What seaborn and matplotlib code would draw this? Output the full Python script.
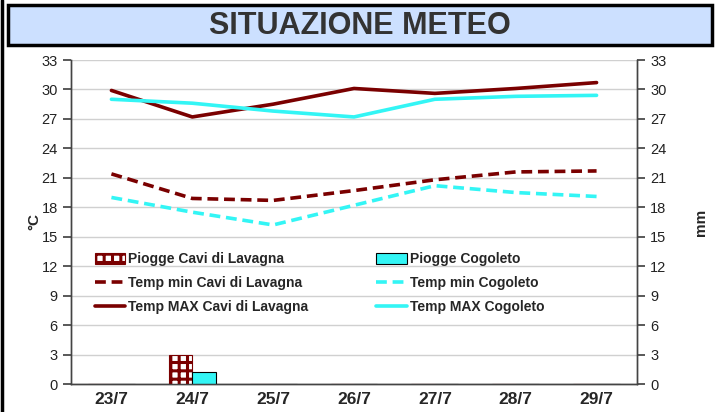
import numpy as np
import pandas as pd
import seaborn as sns
from matplotlib import pyplot as plt
from matplotlib.patches import Rectangle
from matplotlib.lines import Line2D

days = ['23/7', '24/7', '25/7', '26/7', '27/7', '28/7', '29/7']

tmax_cavi = [29.9, 27.2, 28.5, 30.1, 29.6, 30.1, 30.7]
tmax_cogoleto = [29.0, 28.6, 27.8, 27.2, 29.0, 29.3, 29.4]
tmin_cavi = [21.4, 18.9, 18.7, 19.7, 20.8, 21.6, 21.7]
tmin_cogoleto = [19.0, 17.5, 16.2, 18.2, 20.2, 19.5, 19.1]
rain_cavi = [0, 3.0, 0, 0, 0, 0, 0]
rain_cogoleto = [0, 1.2, 0, 0, 0, 0, 0]

maroon = '#7a0000'
aqua = '#33f5f5'

sns.set_theme(style='white')
plt.rcParams['font.family'] = ['Liberation Sans', 'DejaVu Sans']
plt.rcParams['hatch.linewidth'] = 2.2

fig = plt.figure(figsize=(7.2, 4.12), dpi=100)
ax = fig.add_axes([71 / 720, 28 / 412, 566 / 720, 324 / 412])
ax2 = ax.twinx()

# title box
fig.patches.append(Rectangle((8 / 720, 367 / 412), 704 / 720, 40 / 412,
                             transform=fig.transFigure, facecolor='#cce0ff',
                             edgecolor='black', linewidth=2.5))
fig.text(0.5, 386 / 412, 'SITUAZIONE METEO', ha='center', va='center',
         fontsize=22, fontweight='bold', color='#333333')
fig.lines.append(Line2D([1.5 / 720, 1.5 / 720], [0, 1], transform=fig.transFigure,
                        color='black', linewidth=2.5))

# lines (left axis, °C)
lines = pd.DataFrame({
    'day': days * 4,
    'val': tmin_cavi + tmin_cogoleto + tmax_cavi + tmax_cogoleto,
    'serie': (['Temp min Cavi di Lavagna'] * 7 + ['Temp min Cogoleto'] * 7 +
              ['Temp MAX Cavi di Lavagna'] * 7 + ['Temp MAX Cogoleto'] * 7),
})
styles = {
    'Temp min Cavi di Lavagna': (maroon, (0, (3, 1.6))),
    'Temp min Cogoleto': (aqua, (0, (3, 1.6))),
    'Temp MAX Cavi di Lavagna': (maroon, '-'),
    'Temp MAX Cogoleto': (aqua, '-'),
}
line_handles = {}
for name, (col, ls) in styles.items():
    sub = lines[lines['serie'] == name]
    sns.lineplot(data=sub, x='day', y='val', ax=ax, color=col, linestyle=ls,
                 linewidth=2.6, sort=False)
    line_handles[name] = ax.lines[-1]

# bars (right axis, mm)
bars = pd.DataFrame({
    'day': days * 2,
    'mm': rain_cavi + rain_cogoleto,
    'serie': ['Piogge Cavi di Lavagna'] * 7 + ['Piogge Cogoleto'] * 7,
})
sns.barplot(data=bars, x='day', y='mm', hue='serie', ax=ax2, width=0.58,
            palette=['white', aqua], saturation=1, edgecolor='black',
            linewidth=0.8, legend=False)
for patch in ax2.containers[0]:
    patch.set_hatch('++')
    patch.set_edgecolor(maroon)
bar_handles = [ax2.containers[0].patches[1], ax2.containers[1].patches[1]]

for a in (ax, ax2):
    a.set_ylim(0, 33)
    a.set_yticks(np.arange(0, 34, 3))
    a.set_xlim(-0.5, 6.5)
    a.set_xlabel('')
ax.set_xticks(range(len(days)))
ax.set_xticklabels(days, fontweight='bold', fontsize=12.5)
ax.set_xticks(np.arange(-0.5, 7, 1), minor=True)
ax.tick_params(axis='x', which='major', length=0, pad=6)
ax.tick_params(axis='x', which='minor', length=5, direction='out', color='#444444')
ax.tick_params(axis='y', length=6, direction='out', color='#444444', labelsize=10.5,
               labelcolor='#222222')
ax2.tick_params(axis='y', length=6, direction='out', color='#444444', labelsize=10.5,
                labelcolor='#222222')
ax.yaxis.grid(True, color='#d0d0d0', linewidth=1)
ax.set_ylabel('°C', fontweight='bold', fontsize=11, labelpad=0)
ax2.set_ylabel('mm', fontweight='bold', fontsize=11, labelpad=20)

for a in (ax, ax2):
    for s in ('left', 'right', 'bottom'):
        a.spines[s].set_color('#444444')
        a.spines[s].set_linewidth(1)
    a.spines['top'].set_visible(False)

handles = [bar_handles[0], line_handles['Temp min Cavi di Lavagna'],
           line_handles['Temp MAX Cavi di Lavagna'], bar_handles[1],
           line_handles['Temp min Cogoleto'], line_handles['Temp MAX Cogoleto']]
labels = ['Piogge Cavi di Lavagna', 'Temp min Cavi di Lavagna',
          'Temp MAX Cavi di Lavagna', 'Piogge Cogoleto', 'Temp min Cogoleto',
          'Temp MAX Cogoleto']
ax2.legend(handles, labels, ncol=2, loc='upper left', bbox_to_anchor=(0.02, 0.445),
           frameon=False, prop={'weight': 'bold', 'size': 10},
           handlelength=2.2, handleheight=0.8, columnspacing=4.9,
           labelspacing=0.72, handletextpad=0.2)

fig.savefig('out.png', dpi=100)
